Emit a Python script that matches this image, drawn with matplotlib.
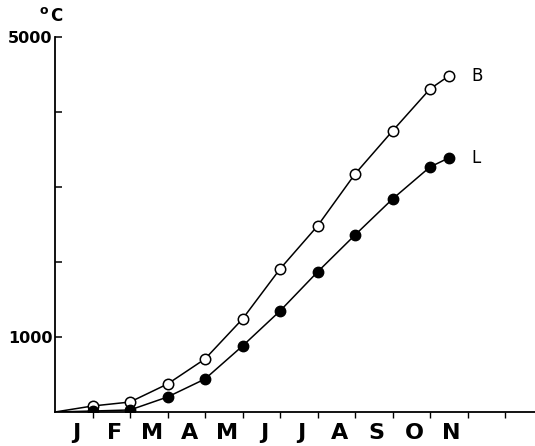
import matplotlib
matplotlib.use("Agg")
import matplotlib.pyplot as plt

# position along the year (1 = end of Jan ... 10.5 = mid Nov), 0 = start
months = [0, 1, 2, 3, 4, 5, 6, 7, 8, 9, 10, 10.5]
series_b = [0, 80, 133, 373, 707, 1240, 1907, 2480, 3173, 3747, 4307, 4480]
series_l = [0, 13, 27, 200, 440, 880, 1347, 1867, 2360, 2840, 3267, 3387]
month_labels = ["J", "F", "M", "A", "M", "J", "J", "A", "S", "O", "N"]
y_ticks = [1000, 2000, 3000, 4000, 5000]
y_tick_labels = ["1000", "", "", "", "5000"]

fig = plt.figure(figsize=(5.35, 4.46), dpi=100)
ax = fig.add_axes([55 / 535, 34 / 446, 480 / 535, 375 / 446])

ax.plot(months, series_b, color="black", lw=1.1, marker="o", ms=7.5,
        mfc="white", mec="black", mew=1.1, markevery=list(range(1, len(months))))
ax.plot(months, series_l, color="black", lw=1.1, marker="o", ms=7.5,
        mfc="black", mec="black", markevery=list(range(1, len(months))))

ax.text(11.1, series_b[-1], "B", fontsize=12, va="center", ha="left")
ax.text(11.1, series_l[-1], "L", fontsize=12, va="center", ha="left")

ax.set_xlim(0, 12.8)
ax.set_ylim(0, 5000)

for side in ["top", "right"]:
    ax.spines[side].set_visible(False)
ax.spines["left"].set_linewidth(1.3)
ax.spines["bottom"].set_linewidth(1.3)

ax.set_yticks(y_ticks)
ax.set_yticklabels(y_tick_labels, fontsize=11.5, fontweight="bold")
ax.tick_params(axis="y", direction="in", length=5, width=1.1, pad=2)

ax.set_xticks(range(1, 13))
ax.set_xticklabels([])
ax.tick_params(axis="x", which="major", direction="out", length=4, width=1)
ax.set_xticks([i + 0.58 for i in range(len(month_labels))], minor=True)
ax.set_xticklabels(month_labels, minor=True, fontsize=16, fontweight="bold")
ax.tick_params(axis="x", which="minor", length=0, pad=8)

fig.text(44 / 535, 1 - 10 / 446, "o", fontsize=9, fontweight="bold",
         ha="center", va="center")
fig.text(56 / 535, 1 - 16 / 446, "C", fontsize=12, fontweight="bold",
         ha="center", va="center")

fig.savefig("out.png", dpi=100)
